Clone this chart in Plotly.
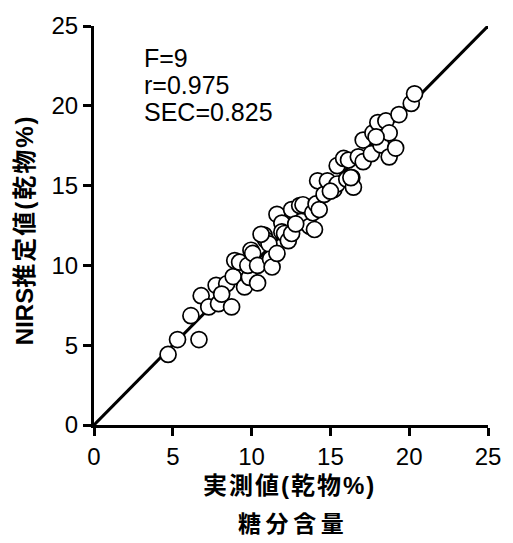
import plotly.graph_objects as go

# 実測値 (measured, x) and NIRS推定値 (predicted, y)
measured = [4.70, 5.30, 6.66, 6.15, 6.80, 7.28, 7.90, 7.75, 8.73, 8.42, 8.83, 8.93, 9.24,
            9.55, 9.86, 10.38, 9.76, 9.96, 10.07, 10.38, 10.79, 10.89, 11.10, 11.20, 11.30,
            11.61, 11.61, 11.92, 11.92, 12.09, 12.33, 12.54, 12.54, 13.05, 13.26, 13.16,
            13.68, 13.88, 14.09, 13.99, 14.29, 14.19, 14.60, 14.81, 15.22, 15.43, 15.43,
            15.84, 16.04, 16.15, 16.36, 16.46, 16.77, 17.08, 17.08, 17.60, 17.70, 18.01,
            18.21, 18.52, 18.73, 18.73, 19.14, 19.35, 20.13, 20.34,
            8.10, 10.60, 12.80, 15.00, 16.30, 17.90]
predicted = [4.42, 5.35, 5.35, 6.85, 8.10, 7.40, 7.60, 8.75, 7.40, 8.85, 9.30, 10.30, 10.20,
             8.65, 9.25, 8.90, 10.00, 10.95, 10.75, 10.00, 11.90, 11.60, 11.35, 10.40, 9.90,
             10.75, 13.20, 12.65, 12.10, 12.00, 11.55, 12.00, 13.50, 13.75, 13.80, 12.75,
             12.45, 13.30, 13.85, 12.25, 13.50, 15.30, 14.45, 15.30, 14.75, 15.10, 16.25,
             16.70, 15.40, 16.60, 15.50, 14.90, 16.80, 16.50, 17.85, 17.00, 18.30, 18.95,
             17.55, 19.05, 18.30, 16.80, 17.35, 19.45, 20.15, 20.75,
             8.20, 11.95, 12.60, 14.65, 15.50, 18.05]

ticks = [0, 5, 10, 15, 20, 25]
stats = ["F=9", "r=0.975", "SEC=0.825"]
x_title = ["実測値(乾物%)", "糖分含量"]
y_title_latin = "NIRS"
y_title_cjk = "推定値(乾物%)"

LAT = "Liberation Sans, Arial, Noto Sans CJK JP"

fig = go.Figure()
fig.add_trace(go.Scatter(x=[0, 25], y=[0, 25], mode="lines",
                         line=dict(color="black", width=3), hoverinfo="skip"))
fig.add_trace(go.Scatter(x=measured, y=predicted, mode="markers",
                         marker=dict(size=16, color="white",
                                     line=dict(color="black", width=1.7))))

axis_common = dict(range=[0, 25], tickvals=ticks, showgrid=False, zeroline=False,
                   showline=True, linecolor="black", linewidth=3, mirror=False,
                   ticks="outside", ticklen=8, tickwidth=3, tickcolor="black",
                   tickfont=dict(family=LAT, size=24, color="black"))
fig.update_xaxes(**axis_common)
fig.update_yaxes(**axis_common)

annotations = []
for i, s in enumerate(stats):
    annotations.append(dict(x=(143 - 94) / 404, y=(425 - 53 - 27.5 * i) / 404,
                            xref="paper", yref="paper",
                            text=s, showarrow=False, xanchor="left", yanchor="middle",
                            font=dict(family=LAT, size=25, color="black")))
annotations.append(dict(x=0.493, y=(425 - 486) / 404, xref="paper", yref="paper",
                        text="\u200a".join(x_title[0]), showarrow=False,
                        xanchor="center", yanchor="middle",
                        font=dict(family=LAT, size=24, color="black", weight="bold")))
annotations.append(dict(x=0.50, y=(425 - 525) / 404, xref="paper", yref="paper",
                        text="\u2009".join(x_title[1]), showarrow=False,
                        xanchor="center", yanchor="middle",
                        font=dict(family=LAT, size=23, color="black", weight="bold")))
annotations.append(dict(x=(23 - 94) / 404, y=(425 - 228) / 404, xref="paper", yref="paper",
                        text=y_title_latin + "\u200a".join(y_title_cjk),
                        showarrow=False, textangle=-90,
                        xanchor="center", yanchor="middle",
                        font=dict(family=LAT, size=24, color="black", weight="bold")))

fig.update_layout(width=513, height=543, showlegend=False,
                  margin=dict(l=94, r=15, t=21, b=118),
                  plot_bgcolor="white", paper_bgcolor="white",
                  hovermode=False,
                  annotations=annotations)

fig.write_html("out.html", config={"displayModeBar": False, "staticPlot": True},
               post_script="document.body.style.margin='0';")
